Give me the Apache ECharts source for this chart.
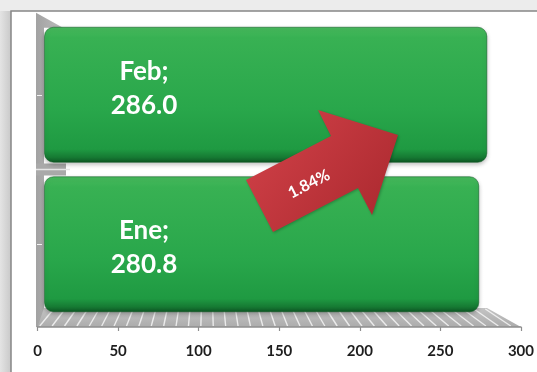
<!DOCTYPE html>
<html>
<head>
<meta charset="utf-8">
<script src="https://cdn.jsdelivr.net/npm/echarts/dist/echarts.min.js"></script>
<style>
  html, body { margin: 0; padding: 0; background: #ffffff; }
  #chart { width: 537px; height: 372px; }
</style>
</head>
<body>
<div id="chart"></div>
<script>
// Monthly totals (horizontal 3D-style bars)
const categories = ['Ene', 'Feb'];
const values = [280.8, 286.0];
const axisTicks = [0, 50, 100, 150, 200, 250, 300];
const changeLabel = '1.84%';

// styling
const FONT = 'Lato, "Open Sans", "DejaVu Sans", sans-serif';
const labelShiftY = [3, -6];          // per-bar nudge of the in-bar label
const floorDepth = 19;                // px between front edge and back edge of the floor
const wallLeft = 36;

const chart = echarts.init(document.getElementById('chart'), null, { renderer: 'canvas' });

const barGradient = new echarts.graphic.LinearGradient(0, 0, 0, 1, [
  { offset: 0, color: '#48ba5d' },
  { offset: 0.08, color: '#38b153' },
  { offset: 0.6, color: '#29a74b' },
  { offset: 0.9, color: '#1f9a42' },
  { offset: 0.96, color: '#167a33' },
  { offset: 1, color: '#0d5423' }
]);

const axMin = axisTicks[0];
const axMax = axisTicks[axisTicks.length - 1];
const axStep = axisTicks[1] - axisTicks[0];

chart.setOption({
  animation: false,
  grid: [
    { left: 44, right: 28, top: 20, bottom: 53 },     // bar plane
    { left: 37.5, right: 16, top: 300, bottom: 45 }   // front edge of the floor
  ],
  xAxis: [
    { gridIndex: 0, type: 'value', min: axMin, max: axMax, interval: axStep, show: false },
    {
      gridIndex: 1, type: 'value', min: axMin, max: axMax, interval: axStep,
      axisLine: { show: true, lineStyle: { color: '#8e8e8e', width: 1.5 } },
      axisTick: { show: true, length: 4, lineStyle: { color: '#8e8e8e', width: 1.2 } },
      splitLine: { show: false },
      axisLabel: {
        margin: 17, color: '#1e1e1e', fontSize: 15, fontWeight: 'bold', fontFamily: FONT
      }
    }
  ],
  yAxis: [
    { gridIndex: 0, type: 'category', data: categories, show: false },
    { gridIndex: 1, type: 'value', show: false }
  ],
  series: [{
    type: 'bar',
    xAxisIndex: 0,
    yAxisIndex: 0,
    barWidth: 136,
    z: 5,
    data: values.map((v, i) => ({ value: v, label: { offset: [0, labelShiftY[i]] } })),
    itemStyle: {
      color: barGradient,
      borderRadius: 9,
      borderColor: 'rgba(12, 90, 35, 0.55)',
      borderWidth: 1,
      shadowColor: 'rgba(0, 0, 0, 0.25)',
      shadowBlur: 4,
      shadowOffsetY: 2
    },
    label: {
      show: true,
      position: [100, '50%'],
      align: 'center',
      verticalAlign: 'middle',
      color: '#ffffff',
      fontSize: 26,
      lineHeight: 34,
      fontWeight: 'bold',
      fontFamily: FONT,
      formatter: p => p.name + ';\n' + Number(p.value).toFixed(1)
    }
  }]
});

// Decorations built from the axes: panel, side wall, floor, arrow
function decorate() {
  const fx = v => chart.convertToPixel({ xAxisIndex: 1 }, v);
  const bx = v => chart.convertToPixel({ xAxisIndex: 0 }, v);
  const cy = c => chart.convertToPixel({ yAxisIndex: 0 }, c);

  const frontY = chart.convertToPixel({ yAxisIndex: 1 }, 0);
  const backY = frontY - floorDepth;
  const f0 = fx(axMin), f1 = fx(axMax);
  const b0 = bx(axMin), b1 = bx(axMax) - 22;
  const backOf = f => b0 + (f - f0) * (b1 - b0) / (f1 - f0);

  const topY = cy(categories[categories.length - 1]) - 82;

  const els = [];
  // page background and panel
  els.push({ type: 'rect', z: -20, shape: { x: 0, y: 0, width: 537, height: 372 }, style: { fill: '#ececec' } });
  els.push({
    type: 'rect', z: -19, shape: { x: 0, y: 11, width: 11, height: 361 },
    style: { fill: new echarts.graphic.LinearGradient(0, 0, 1, 0, [
      { offset: 0, color: '#e4e4e4' }, { offset: 1, color: '#c9c9c9' }]) }
  });
  els.push({
    type: 'rect', z: -18, shape: { x: 11, y: 11, width: 540, height: 370 },
    style: { fill: '#ffffff', stroke: '#878787', lineWidth: 1.5 }
  });

  // side wall with its top bevel
  els.push({
    type: 'polygon', z: -10,
    shape: { points: [[wallLeft, topY], [63, topY + 15], [b0, topY + 15], [b0, frontY], [wallLeft, frontY]] },
    style: { fill: new echarts.graphic.LinearGradient(0, 0, 1, 0, [
      { offset: 0, color: '#a2a2a2' }, { offset: 1, color: '#bdbdbd' }]) }
  });
  // category marks on the wall
  categories.forEach(c => {
    const y = Math.round(cy(c)) + 0.5;
    els.push({ type: 'line', z: -9, shape: { x1: wallLeft + 1, y1: y, x2: wallLeft + 6, y2: y },
      style: { stroke: '#f4f4f4', lineWidth: 1 } });
  });
  // gap between the two bars where the wall shows through
  const gapY = (cy(categories[0]) + cy(categories[1])) / 2;
  els.push({ type: 'rect', z: -9, shape: { x: wallLeft, y: gapY - 6, width: 30, height: 12 },
    style: { fill: '#a9a9a9' } });
  els.push({ type: 'line', z: -8, shape: { x1: wallLeft, y1: gapY, x2: 70, y2: gapY },
    style: { stroke: '#e6e6e6', lineWidth: 1.5 } });

  // floor
  els.push({
    type: 'polygon', z: -10,
    shape: { points: [[f0, frontY], [f1, frontY], [b1, backY], [b0, backY]] },
    style: { fill: new echarts.graphic.LinearGradient(0, 0, 0, 1, [
      { offset: 0, color: '#c4c4c4' }, { offset: 1, color: '#acacac' }]) }
  });
  const stripeStep = axStep / 6.5;
  for (let v = axMin + stripeStep / 2; v < axMax; v += stripeStep) {
    const f = fx(v);
    els.push({ type: 'line', z: -9,
      shape: { x1: f - 4, y1: frontY - 1, x2: backOf(f) + 4, y2: backY + 1 },
      style: { stroke: 'rgba(255,255,255,0.75)', lineWidth: 1.4 } });
  }

  // growth arrow
  els.push({
    type: 'polygon', z: 50,
    shape: { points: [[246, 180], [331, 136], [318, 110], [398, 135], [372, 215], [358, 188], [273, 232]] },
    style: {
      fill: new echarts.graphic.LinearGradient(0, 0, 1, 1, [
        { offset: 0, color: '#d4434a' }, { offset: 1, color: '#a8272d' }]),
      shadowColor: 'rgba(0,0,0,0.25)', shadowBlur: 3, shadowOffsetX: 1, shadowOffsetY: 1
    }
  });
  els.push({
    type: 'text', z: 51, x: 309, y: 184, rotation: 0.47,
    style: {
      text: changeLabel, fill: '#ffffff', font: 'bold 16px ' + FONT,
      align: 'center', verticalAlign: 'middle', textAlign: 'center', textVerticalAlign: 'middle'
    }
  });

  chart.setOption({ graphic: { elements: els } });
}
decorate();
</script>
</body>
</html>
